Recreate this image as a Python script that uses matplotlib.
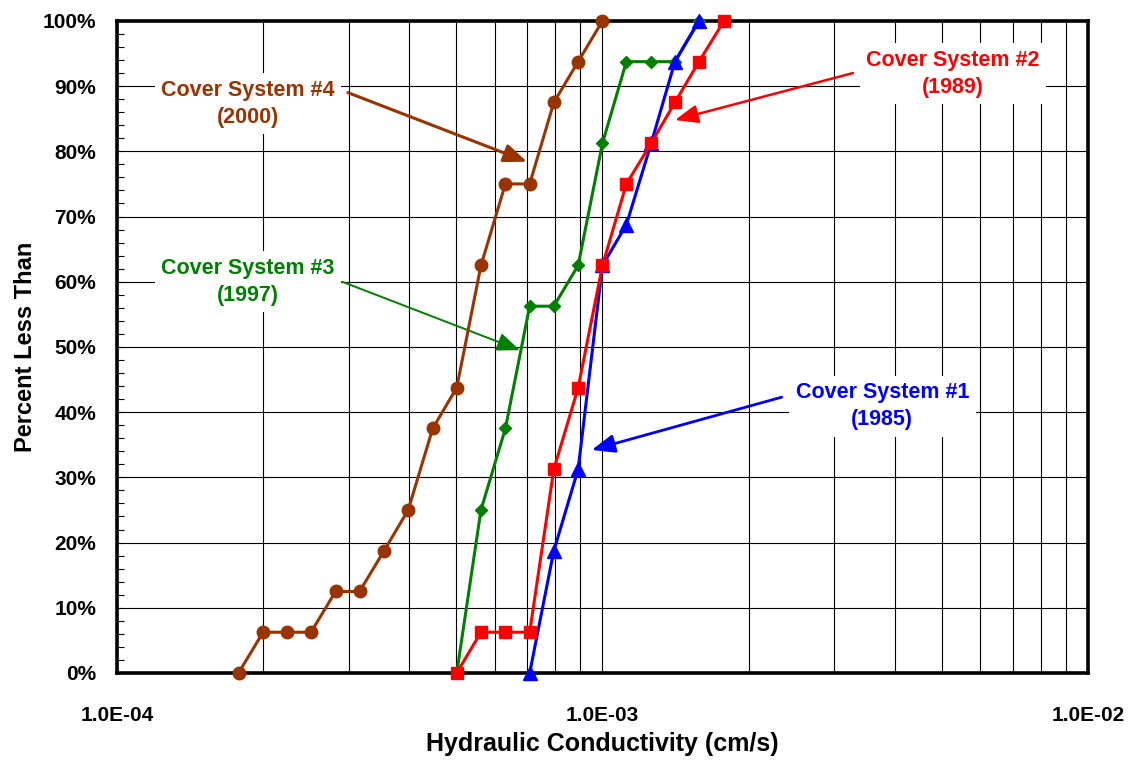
import matplotlib
matplotlib.use("Agg")
import matplotlib.pyplot as plt
from matplotlib.ticker import FixedLocator, LogLocator, FuncFormatter, NullFormatter

# Hydraulic conductivity (cm/s) and cumulative percent for each cover system
k_cs1 = [7.08e-4, 7.94e-4, 8.91e-4, 1.00e-3, 1.12e-3, 1.26e-3, 1.41e-3, 1.58e-3]
pct_cs1 = [0, 18.75, 31.25, 62.5, 68.75, 81.25, 93.75, 100]

k_cs2 = [5.01e-4, 5.62e-4, 6.31e-4, 7.08e-4, 7.94e-4, 8.91e-4, 1.00e-3,
         1.12e-3, 1.26e-3, 1.41e-3, 1.58e-3, 1.78e-3]
pct_cs2 = [0, 6.25, 6.25, 6.25, 31.25, 43.75, 62.5, 75, 81.25, 87.5, 93.75, 100]

k_cs3 = [5.01e-4, 5.62e-4, 6.31e-4, 7.08e-4, 7.94e-4, 8.91e-4, 1.00e-3,
         1.12e-3, 1.26e-3, 1.41e-3, 1.58e-3]
pct_cs3 = [0, 25, 37.5, 56.25, 56.25, 62.5, 81.25, 93.75, 93.75, 93.75, 100]

k_cs4 = [1.78e-4, 2.00e-4, 2.24e-4, 2.51e-4, 2.82e-4, 3.16e-4, 3.55e-4, 3.98e-4,
         4.47e-4, 5.01e-4, 5.62e-4, 6.31e-4, 7.08e-4, 7.94e-4, 8.91e-4, 1.00e-3]
pct_cs4 = [0, 6.25, 6.25, 6.25, 12.5, 12.5, 18.75, 25, 37.5, 43.75,
           62.5, 75, 75, 87.5, 93.75, 100]

# callout labels: text, text anchor, arrow start, arrow tip
labels = ["Cover System #1\n(1985)", "Cover System #2\n(1989)",
          "Cover System #3\n(1997)", "Cover System #4\n(2000)"]
label_xy = [(3.77e-3, 40.9), (5.27e-3, 91.9), (1.86e-4, 60.0), (1.86e-4, 87.3)]
arrow_from = [(2.34e-3, 42.3), (3.28e-3, 92.0), (2.91e-4, 60.0), (2.99e-4, 89.0)]
arrow_to = [(9.5e-4, 34.2), (1.41e-3, 84.8), (6.76e-4, 49.5), (6.99e-4, 78.4)]

BROWN = "#993300"
GREEN = "#008000"
RED = "#FF0000"
BLUE = "#0000FF"
colors = [BLUE, RED, GREEN, BROWN]
arrow_lw = [2.0, 1.8, 1.4, 2.2]

plt.rcParams["font.family"] = ["Liberation Sans", "DejaVu Sans"]
plt.rcParams["font.weight"] = "bold"

fig = plt.figure(figsize=(11.31, 7.6), dpi=100)
ax = fig.add_axes([0.1034, 0.1145, 0.8586, 0.858])

ax.plot(k_cs4, pct_cs4, color=BROWN, lw=2.2, marker="o", ms=9, zorder=4, clip_on=False)
ax.plot(k_cs3, pct_cs3, color=GREEN, lw=2.2, marker="D", ms=6.5, zorder=5, clip_on=False)
ax.plot(k_cs1, pct_cs1, color=BLUE, lw=2.2, marker="^", ms=9.5, zorder=6, clip_on=False)
ax.plot(k_cs2, pct_cs2, color=RED, lw=2.2, marker="s", ms=8.5, zorder=7, clip_on=False)

ax.set_xscale("log")
ax.set_xlim(1e-4, 1e-2)
ax.set_ylim(0, 100)

ax.xaxis.set_major_locator(FixedLocator([1e-4, 1e-3, 1e-2]))
ax.xaxis.set_major_formatter(FuncFormatter(lambda v, p: f"{v:.1E}"))
ax.xaxis.set_minor_locator(LogLocator(base=10, subs=range(2, 10)))
ax.xaxis.set_minor_formatter(NullFormatter())
ax.yaxis.set_major_locator(FixedLocator(range(0, 101, 10)))
ax.yaxis.set_major_formatter(FuncFormatter(lambda v, p: f"{v:.0f}%"))
ax.yaxis.set_minor_locator(FixedLocator(range(0, 101, 2)))

ax.tick_params(axis="x", which="both", length=0, pad=24, labelsize=15)
ax.tick_params(axis="y", which="both", direction="in", length=5, width=0.8,
               pad=15, labelsize=15)

ax.grid(which="major", axis="both", color="black", lw=0.8, zorder=1)
ax.grid(which="minor", axis="x", color="black", lw=0.8, zorder=1)
ax.set_axisbelow(True)
for spine in ax.spines.values():
    spine.set_linewidth(2.6)
    spine.set_zorder(3.5)

ax.set_xlabel("Hydraulic Conductivity (cm/s)", fontsize=18, fontweight="bold")
ax.set_ylabel("Percent Less Than", fontsize=17, fontweight="bold")
ax.xaxis.set_label_coords(0.5, -0.091)
ax.yaxis.set_label_coords(-0.082, 0.5)

for text, pos, start, tip, c, lw in zip(labels, label_xy, arrow_from, arrow_to,
                                        colors, arrow_lw):
    ax.text(pos[0], pos[1], text, color=c, fontsize=15.5, fontweight="bold",
            ha="center", va="center", multialignment="center", linespacing=1.4,
            bbox=dict(boxstyle="square,pad=0.3", fc="white", ec="none"), zorder=3)
    ax.annotate("", xy=tip, xytext=start,
                arrowprops=dict(arrowstyle="-|>,head_length=0.7,head_width=0.28",
                                color=c, lw=lw, shrinkA=0, shrinkB=0,
                                mutation_scale=20),
                zorder=3)

fig.savefig("out.png", dpi=100)
plt.close(fig)
